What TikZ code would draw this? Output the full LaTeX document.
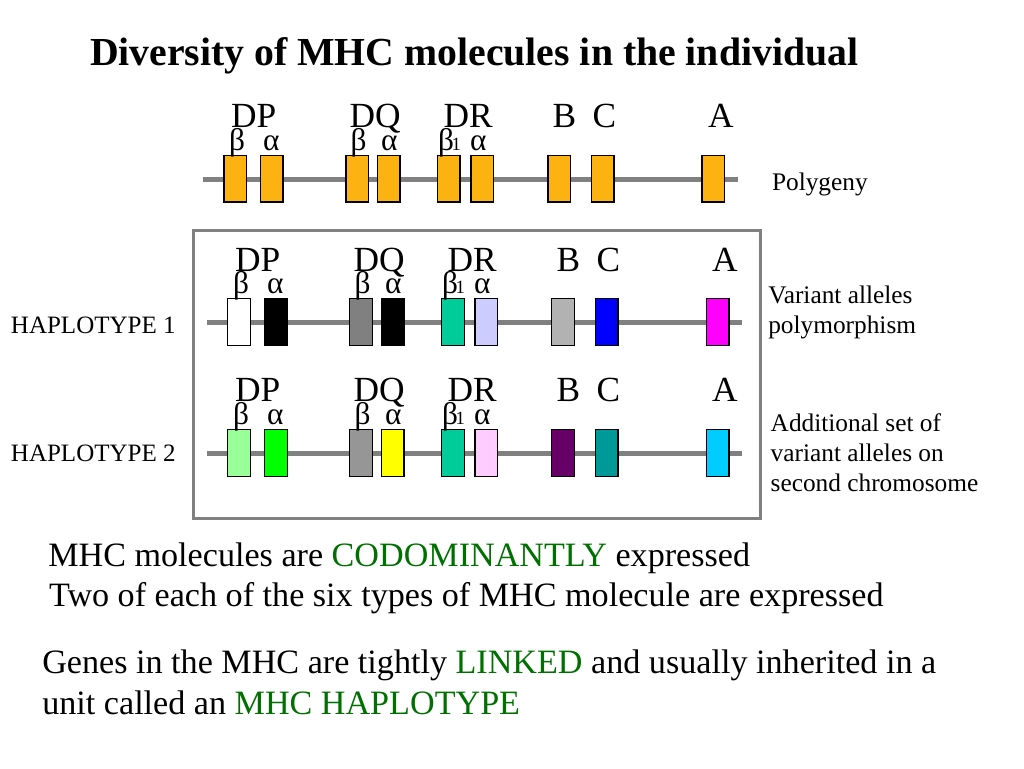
\documentclass[tikz,border=0pt]{standalone}
\usepackage{fontspec}
\setmainfont{Liberation Serif}
\definecolor{orng}{RGB}{252,178,16}
\definecolor{chromgray}{RGB}{128,128,128}
\definecolor{txtgreen}{RGB}{0,112,0}
\definecolor{cgrayA}{RGB}{128,128,128}
\definecolor{cteal}{RGB}{0,204,153}
\definecolor{clav}{RGB}{204,204,255}
\definecolor{clgray}{RGB}{178,178,178}
\definecolor{cblue}{RGB}{0,0,255}
\definecolor{cmag}{RGB}{255,0,255}
\definecolor{clgreen}{RGB}{153,255,153}
\definecolor{cgreen}{RGB}{0,255,0}
\definecolor{cgrayB}{RGB}{150,150,150}
\definecolor{cyel}{RGB}{255,255,0}
\definecolor{cpink}{RGB}{255,204,255}
\definecolor{cpurp}{RGB}{102,0,102}
\definecolor{cdteal}{RGB}{0,153,153}
\definecolor{csky}{RGB}{0,204,255}
\newcommand{\labelrow}[4]{%
  \node[lab] (#1DP) at ({231+#2},#3) {DP};
  \node[lab] (#1DQ) at ({349.6+#2},#3) {DQ};
  \node[lab] (#1DR) at ({443.6+#2},#3) {DR};
  \node[lab] (#1B) at ({552.5+#2},#3) {B};
  \node[lab] (#1C) at ({592.5+#2},#3) {C};
  \node[lab] (#1A) at ({708+#2},#3) {A};
  \node[greek] (#1bP) at ({229+#2},#4) {β};
  \node[greek] (#1aP) at ({263+#2},#4) {α};
  \node[greek] (#1bQ) at ({350.7+#2},#4) {β};
  \node[greek] (#1aQ) at ({381+#2},#4) {α};
  \node[greek] (#1bR) at ({438+#2},#4) {β};
  \node[subs] (#1sR) at ({451.5+#2},#4) {1};
  \node[greek] (#1aR) at ({470+#2},#4) {α};
}
\begin{document}
\begin{tikzpicture}[x=0.75pt,y=-0.75pt,
  txt/.style={anchor=base west, inner sep=0pt, outer sep=0pt},
  gbox/.style={draw=black, line width=1pt, minimum width=16.9pt, minimum height=35pt, inner sep=0pt},
  chrom/.style={line width=3.75pt, draw=chromgray},
  lab/.style={txt, font=\fontsize{26.5}{30}\selectfont},
  greek/.style={txt, font=\fontsize{23.5}{28}\selectfont},
  subs/.style={txt, font=\fontsize{14}{16}\selectfont},
  side/.style={txt, font=\fontsize{19}{22}\selectfont},
  body/.style={txt, font=\fontsize{25.6}{30}\selectfont},
  hap/.style={txt, font=\fontsize{18.75}{22}\selectfont},
  frame/.style={draw=chromgray, line width=2.25pt}]
\useasboundingbox (0,0) rectangle (1024,768);

% title
\node[txt, font=\fontsize{29.8}{34}\selectfont\bfseries] (title) at (90,65) {Diversity of MHC molecules in the individual};

% frame
\node[frame, anchor=north west, minimum width={566.5*0.75pt}, minimum height={288*0.75pt}, inner sep=0pt] (frm) at (192,229) {};

% chromosome lines
\coordinate (r1s) at (202.5,179); \coordinate (r1e) at (738,179);
\coordinate (r2s) at (206.6,322.3); \coordinate (r2e) at (742,322.3);
\coordinate (r3s) at (206.6,453.3); \coordinate (r3e) at (742,453.3);
\draw[chrom] (r1s) -- (r1e);
\draw[chrom] (r2s) -- (r2e);
\draw[chrom] (r3s) -- (r3e);

% row 1 boxes
\foreach \x [count=\i] in {235.2,271.7,357.3,388.8,448.8,482.3,559.2,602.7,713.3}
  \node[gbox, fill=orng] (r1g\i) at (\x,178.5) {};
% row 2 boxes
\foreach \x/\c [count=\i] in {239/white,276/black,361/cgrayA,392.6/black,452.9/cteal,486.2/clav,563/clgray,606.8/cblue,717.8/cmag}
  \node[gbox, fill=\c] (r2g\i) at (\x,322) {};
% row 3 boxes
\foreach \x/\c [count=\i] in {239/clgreen,276/cgreen,361/cgrayB,392.6/cyel,452.9/cteal,486.2/cpink,563/cpurp,606.8/cdteal,717.8/csky}
  \node[gbox, fill=\c] (r3g\i) at (\x,453) {};

% labels
\labelrow{r1}{0}{127}{150}
\labelrow{r2}{4}{271.7}{293.5}
\labelrow{r3}{4}{401.7}{424}

% side texts
\node[side] (poly) at (772,190) {Polygeny};
\node[side] (var1) at (768.3,303.3) {Variant alleles};
\node[side] (var2) at (768.3,333.3) {polymorphism};
\node[side] (add1) at (770.7,431.7) {Additional set of};
\node[side] (add2) at (770.7,461.7) {variant alleles on};
\node[side] (add3) at (770.7,491.7) {second chromosome};

\node[hap] (hap1) at (11,333.3) {HAPLOTYPE 1};
\node[hap] (hap2) at (11,461.7) {HAPLOTYPE 2};

% bottom texts
\node[body] (b1) at (48.3,566) {MHC molecules are \textcolor{txtgreen}{CODOMINANTLY} expressed};
\node[body] (b2) at (49,606.7) {Two of each of the six types of MHC molecule are expressed};
\node[body] (b3) at (42.3,673.3) {Genes in the MHC are tightly \textcolor{txtgreen}{LINKED} and usually inherited in a};
\node[body] (b4) at (42.3,714) {unit called an \textcolor{txtgreen}{MHC HAPLOTYPE}};
\end{tikzpicture}
\end{document}
